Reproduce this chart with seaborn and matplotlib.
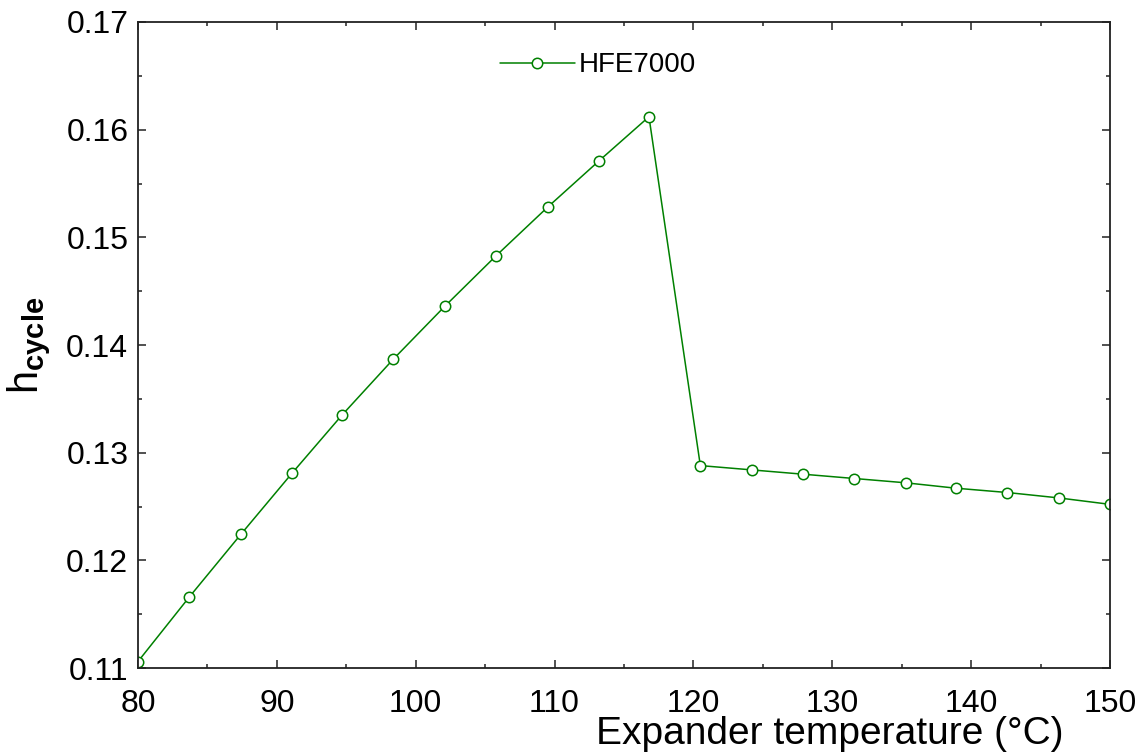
import matplotlib
matplotlib.use('Agg')
import matplotlib.pyplot as plt
import seaborn as sns
import pandas as pd
from matplotlib.ticker import MultipleLocator

sns.set_theme(style='ticks')
plt.rcParams['font.family'] = ['Liberation Sans', 'DejaVu Sans']
plt.rcParams['mathtext.fontset'] = 'custom'
plt.rcParams['mathtext.rm'] = 'Liberation Sans'
plt.rcParams['mathtext.bf'] = 'Liberation Sans:bold'
plt.rcParams['text.color'] = 'black'
plt.rcParams['axes.labelcolor'] = 'black'

# Expander temperature (°C) and cycle efficiency for HFE7000
temperature = [80.0, 83.7, 87.4, 91.1, 94.7, 98.4, 102.1, 105.8, 109.5, 113.2,
               116.8, 120.5, 124.2, 127.9, 131.6, 135.3, 138.9, 142.6, 146.3, 150.0]
efficiency = [0.1106, 0.1166, 0.1224, 0.1281, 0.1335, 0.1387, 0.1436, 0.1483, 0.1528, 0.1571,
              0.1612, 0.1288, 0.1284, 0.1280, 0.1276, 0.1272, 0.1267, 0.1263, 0.1258, 0.1252]
fluid = 'HFE7000'

df = pd.DataFrame({'T': temperature, 'eta': efficiency})

fig = plt.figure(figsize=(11.47, 7.56), dpi=100)
ax = fig.add_axes([0.1203, 0.1164, 0.8474, 0.8545])

sns.lineplot(
    data=df, x='T', y='eta', ax=ax,
    color='#008000', linewidth=1.1,
    marker='o', markersize=7.5, markerfacecolor='white',
    markeredgecolor='#008000', markeredgewidth=1.1,
    label=fluid
)

ax.set_xlim(80, 150)
ax.set_ylim(0.11, 0.17)
ax.xaxis.set_major_locator(MultipleLocator(10))
ax.xaxis.set_minor_locator(MultipleLocator(5))
ax.yaxis.set_major_locator(MultipleLocator(0.01))
ax.yaxis.set_minor_locator(MultipleLocator(0.005))
ax.yaxis.set_major_formatter(plt.FormatStrFormatter('%.2f'))

ax.tick_params(which='both', direction='in', top=True, right=True,
               labelsize=23, colors='#222222', labelcolor='black', width=1.1)
ax.tick_params(which='major', length=6)
ax.tick_params(which='minor', length=3)
ax.tick_params(axis='x', which='major', pad=15)
ax.tick_params(axis='y', which='major', pad=7)
for s in ax.spines.values():
    s.set_linewidth(1.3)
    s.set_color('#222222')

ax.set_xlabel('Expander temperature (°C)', fontsize=28)
ax.xaxis.set_label_coords(0.712, -0.074)
ax.set_ylabel(r'h$_{\mathbf{cycle}}$', fontsize=30)
ax.yaxis.set_label_coords(-0.087, 0.5)

ax.legend(loc='center left', bbox_to_anchor=(0.372, 0.933), frameon=False,
          fontsize=20, handlelength=2.7, handletextpad=0.15,
          borderpad=0, borderaxespad=0)

fig.savefig('out.png', dpi=100)
